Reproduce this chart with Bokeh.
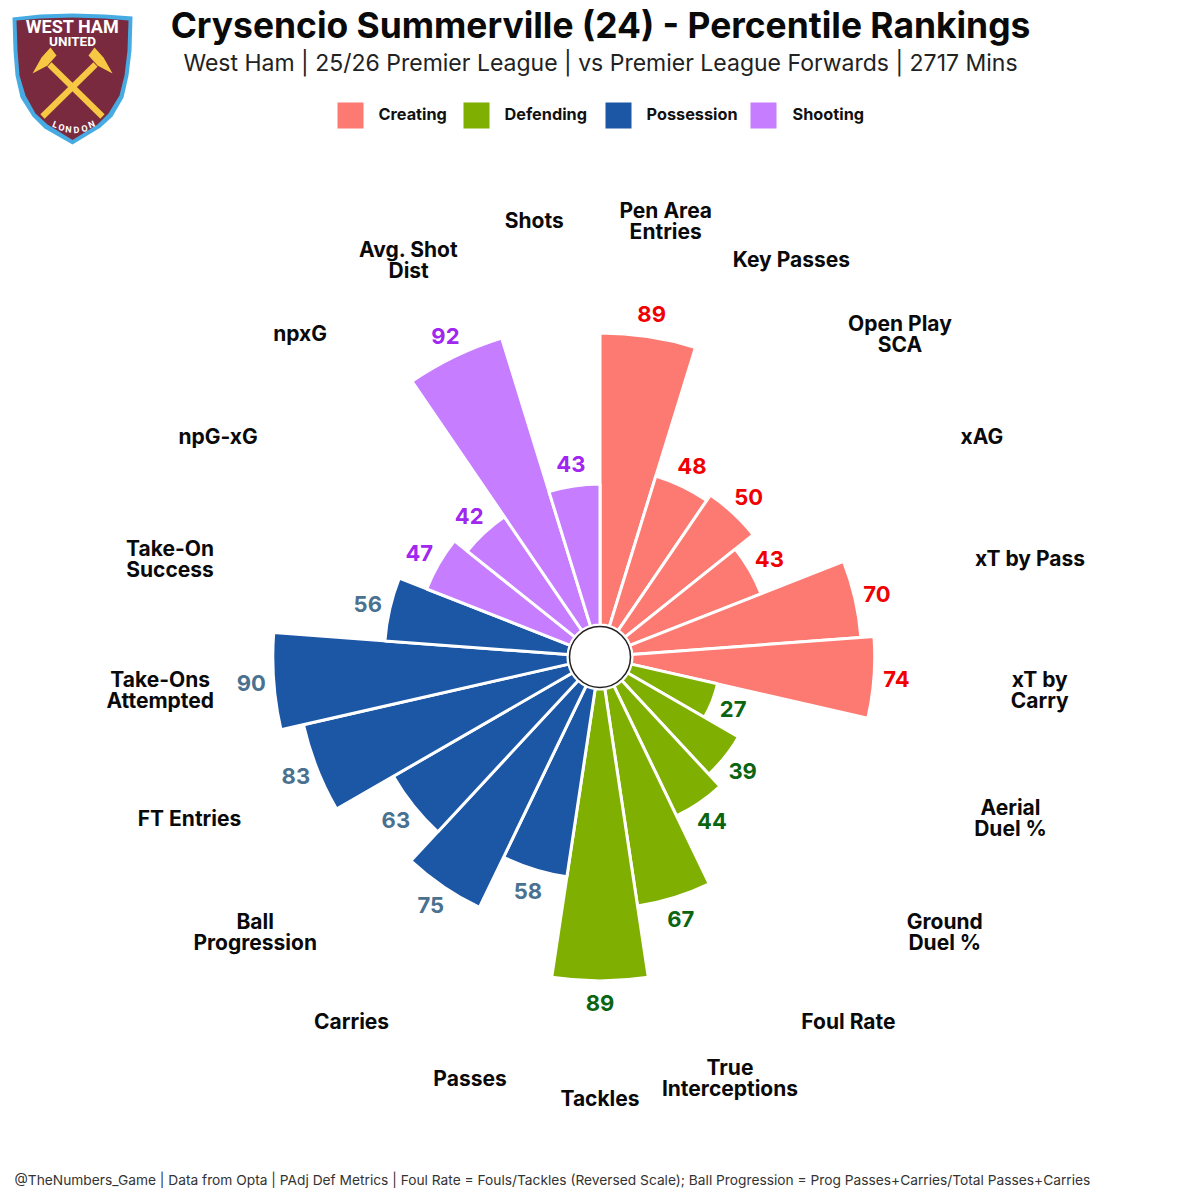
import math
from bokeh.plotting import figure
from bokeh.models import Range1d, ColumnDataSource
from bokeh.core.properties import value
from bokeh.embed import file_html
from bokeh.resources import INLINE

# ---- data ----
categories = ["Pen Area\nEntries", "Key Passes", "Open Play\nSCA", "xAG", "xT by Pass", "xT by\nCarry",
              "Aerial\nDuel %", "Ground\nDuel %", "Foul Rate", "True\nInterceptions", "Tackles",
              "Passes", "Carries", "Ball\nProgression", "FT Entries", "Take-Ons\nAttempted", "Take-On\nSuccess",
              "npG-xG", "npxG", "Avg. Shot\nDist", "Shots"]
values = [89, 48, 50, 43, 70, 74,
          27, 39, 44, 67, 89,
          58, 75, 63, 83, 90, 56,
          47, 42, 92, 43]
groups = ["Creating"] * 6 + ["Defending"] * 5 + ["Possession"] * 6 + ["Shooting"] * 4
group_names = ["Creating", "Defending", "Possession", "Shooting"]
bar_colors = {"Creating": "#FC7A72", "Defending": "#7FAF00", "Possession": "#1C57A6", "Shooting": "#C67DFF"}
num_colors = {"Creating": "#F00000", "Defending": "#0B6410", "Possession": "#4A7190", "Shooting": "#A026F0"}
title = "Crysencio Summerville (24) - Percentile Rankings"
subtitle = "West Ham | 25/26 Premier League | vs Premier League Forwards | 2717 Mins"
footer = "@TheNumbers_Game | Data from Opta | PAdj Def Metrics | Foul Rate = Fouls/Tackles (Reversed Scale); Ball Progression = Prog Passes+Carries/Total Passes+Carries"

# ---- geometry ----
SCALE = 3.28      # pixels per percentile unit
CX, CY = 599.5, 656.5
HOLE = 32 / SCALE
FONT = "Inter"

def px(x): return (x - CX) / SCALE
def py(y): return (CY - y) / SCALE

p = figure(width=1192, height=1192, output_backend="svg", toolbar_location=None,
           x_range=Range1d(px(0), px(1192)), y_range=Range1d(py(1192), py(0)),
           min_border=0, outline_line_color=None, background_fill_color="white", border_fill_color="white")
p.axis.visible = False
p.grid.visible = False

n = len(values)
step = 2 * math.pi / n
start = [math.pi / 2 - (i + 1) * step for i in range(n)]
end = [math.pi / 2 - i * step for i in range(n)]
mid = [math.pi / 2 - (i + 0.5) * step for i in range(n)]
outer = [HOLE + v for v in values]

bars = ColumnDataSource(dict(start=start, end=end, outer=outer, color=[bar_colors[g] for g in groups],
                             x=[0] * n, y=[0] * n))
p.annular_wedge(x="x", y="y", inner_radius=HOLE, outer_radius="outer", start_angle="start", end_angle="end",
                fill_color="color", line_color="white", line_width=3, source=bars)
p.scatter([0], [0], size=61, marker="circle", fill_color="white", line_color="#222222", line_width=1.5)

VAL_PAD = 22.5 / SCALE
CAT_R = 441 / SCALE
p.text([(o + VAL_PAD) * math.cos(m) for o, m in zip(outer, mid)],
       [(o + VAL_PAD) * math.sin(m) for o, m in zip(outer, mid)],
       text=[str(v) for v in values], text_color=[num_colors[g] for g in groups],
       text_font=value(FONT), text_font_style="bold", text_font_size="22px",
       text_align="center", text_baseline="middle")
p.text([CAT_R * math.cos(m) for m in mid], [CAT_R * math.sin(m) for m in mid],
       text=categories, text_color="#0a0a0a",
       text_font=value(FONT), text_font_style="bold", text_font_size="21px",
       text_align="center", text_baseline="middle", text_line_height=0.84)

# titles
p.text([px(600)], [py(24.5)], text=[title], text_color="#0a0a0a", text_font=value(FONT), text_font_style="bold",
       text_font_size="35.4px", text_align="center", text_baseline="middle")
p.text([px(600)], [py(62.5)], text=[subtitle], text_color="#222222", text_font=value(FONT),
       text_font_size="23px", text_align="center", text_baseline="middle")
p.text([px(14)], [py(1179.5)], text=[footer], text_color="#333333", text_font=value(FONT),
       text_font_size="13.76px", text_align="left", text_baseline="middle")

# legend
leg_box_x = [350, 476, 618, 763]
leg_txt_x = [378, 504, 646, 792]
for g, bx, tx in zip(group_names, leg_box_x, leg_txt_x):
    p.rect([px(bx)], [py(115)], width=26 / SCALE, height=26 / SCALE, fill_color=bar_colors[g], line_color=None)
    p.text([px(tx)], [py(113)], text=[g], text_color="#111111", text_font=value(FONT), text_font_style="bold",
           text_font_size="16.3px", text_align="left", text_baseline="middle")

# crest
shield_outer = [(12, 17), (40, 14), (72, 13), (104, 14), (132, 16), (131, 50), (128, 75), (123, 97), (112, 116),
                (100, 127), (72, 144), (44, 128), (32, 116), (20, 97), (15, 75), (13, 50)]
shield_inner = [(16, 20), (40, 18), (72, 17), (104, 18), (128, 20), (127, 50), (124, 75), (119, 95), (108, 113),
                (97, 124), (72, 139.5), (47, 124), (35, 113), (25, 95), (19, 75), (17, 50)]
p.patch([px(a) for a, _ in shield_outer], [py(b) for _, b in shield_outer], fill_color="#45ABE2", line_color=None)
p.patch([px(a) for a, _ in shield_inner], [py(b) for _, b in shield_inner], fill_color="#7A2A3F", line_color=None)
GOLD = "#F7C843"
for (x0, y0, x1, y1) in [(102, 116, 49, 64), (42, 116, 95, 64)]:
    p.line([px(x0), px(x1)], [py(y0), py(y1)], line_color=GOLD, line_width=6)
head = [(32, 73), (41, 57), (50, 47), (56, 55), (47, 65)]
p.patch([px(a) for a, _ in head], [py(b) for _, b in head], fill_color=GOLD, line_color=None)
p.patch([px(144 - a) for a, _ in head], [py(b) for _, b in head], fill_color=GOLD, line_color=None)
p.text([px(72)], [py(26)], text=["WEST HAM"], text_color="white", text_font=value("Roboto"), text_font_style="bold",
       text_font_size="18px", text_align="center", text_baseline="middle")
p.text([px(72)], [py(40)], text=["UNITED"], text_color="white", text_font=value("Roboto"), text_font_style="bold",
       text_font_size="13.5px", text_align="center", text_baseline="middle")
london = list("LONDON")
lx = [54.5, 61, 68, 76, 84, 91]
ly = [124, 127, 129, 129.5, 128, 124]
la = [0.38, 0.24, 0.08, -0.08, -0.24, -0.38]
p.text([px(a) for a in lx], [py(b) for b in ly], text=london, angle=[-a for a in la],
       text_color="white", text_font=value("Roboto"), text_font_style="bold", text_font_size="9px",
       text_align="center", text_baseline="middle")

open("out.html", "w").write(file_html(p, INLINE))
